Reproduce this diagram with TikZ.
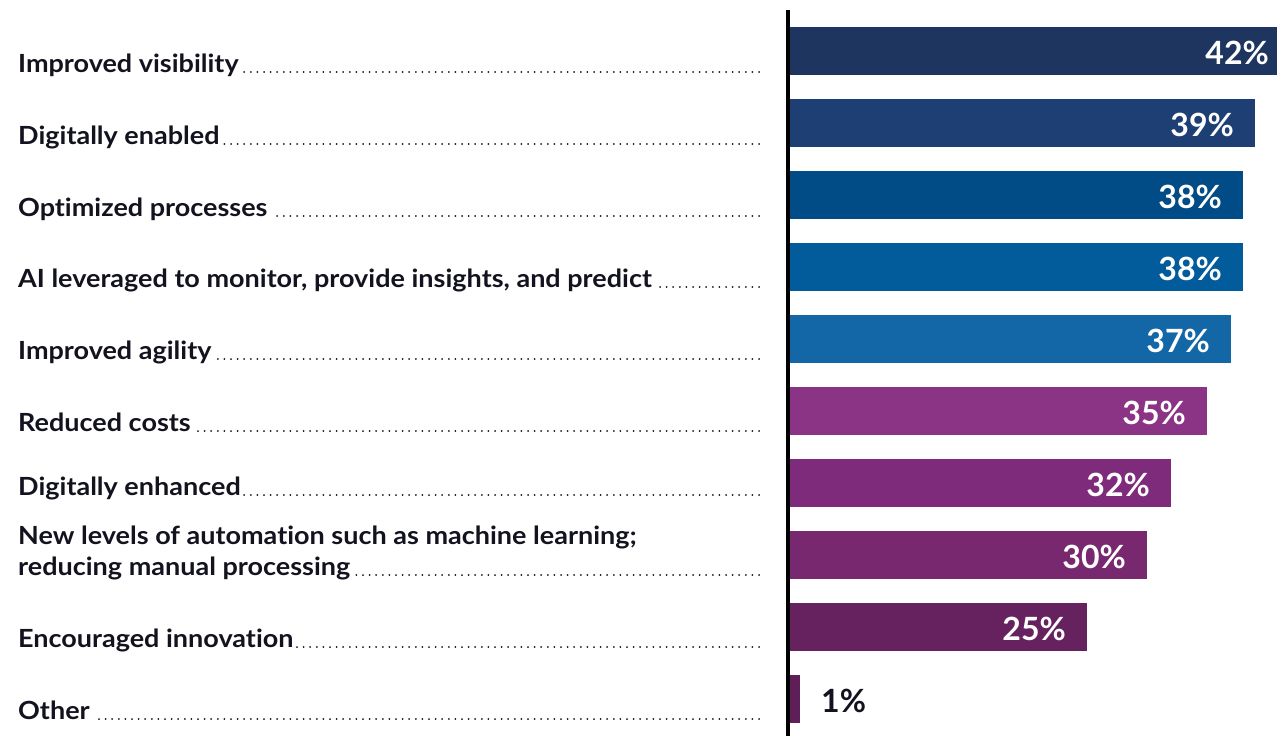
\documentclass[tikz,border=0pt]{standalone}
\usepackage{fontspec}
\setmainfont{Lato}[Ligatures=NoCommon]
\newfontfamily\labfont{Lato}[Ligatures=NoCommon, FakeStretch=1.08]
\definecolor{txt}{HTML}{13131F}
\definecolor{cA}{HTML}{1E355F}
\definecolor{cB}{HTML}{1E3F73}
\definecolor{cC}{HTML}{014B87}
\definecolor{cD}{HTML}{025C9C}
\definecolor{cE}{HTML}{1467A7}
\definecolor{cF}{HTML}{8B3384}
\definecolor{cG}{HTML}{7F2B7B}
\definecolor{cH}{HTML}{78286F}
\definecolor{cI}{HTML}{66225E}
\definecolor{cJ}{HTML}{5E1F58}
\tikzset{
  lab/.style={anchor=base west, inner sep=0pt, text=txt, font=\labfont\fontsize{25}{30}\selectfont\bfseries},
  pct/.style={anchor=base east, inner sep=0pt, text=white, font=\fontsize{32}{36}\selectfont\bfseries},
  leader/.style={line width=2pt, line cap=round, dash pattern=on 0pt off 6.6pt, draw=txt}
}
\begin{document}
\begin{tikzpicture}[x=1pt,y=-1pt]
\useasboundingbox (0,0) rectangle (1277,736);
% bars
\newcommand{\mybar}[5]{% name, top, right, colour, label
  \fill[#4] (789,#2) rectangle (#3,#2+48);
  \node[pct] (#1) at (#3-21,#2+37) {#5};
}
\fill[cA] (789,27) rectangle (1277,75);
\node[pct] (p1) at (1269,64) {42\%};
\mybar{p2}{99}{1255}{cB}{39\%}
\mybar{p3}{171}{1243}{cC}{38\%}
\mybar{p4}{243}{1243}{cD}{38\%}
\mybar{p5}{315}{1231}{cE}{37\%}
\mybar{p6}{387}{1207}{cF}{35\%}
\mybar{p7}{459}{1171}{cG}{32\%}
\mybar{p8}{531}{1147}{cH}{30\%}
\mybar{p9}{603}{1087}{cI}{25\%}
\fill[cJ] (789,675) rectangle (800,723);
\node[pct, anchor=base west, text=txt] (p10) at (821,712) {1\%};
% axis
\coordinate (axtop) at (788,10);
\coordinate (axbot) at (788,736);
\draw[line width=4pt, draw=black] (axtop) -- (axbot);
% labels
\node[lab] (l1) at (18,72) {Improved visibility};
\node[lab] (l2) at (18,144) {Digitally enabled};
\node[lab] (l3) at (18,216) {Optimized processes};
\node[lab] (l4) at (18,287) {AI leveraged to monitor, provide insights, and predict};
\node[lab] (l5) at (18,359) {Improved agility};
\node[lab] (l6) at (18,431) {Reduced costs};
\node[lab] (l7) at (18,495) {Digitally enhanced};
\node[lab] (l8a) at (18,544) {New levels of automation such as machine learning;};
\node[lab] (l8) at (18,575) {reducing manual processing};
\node[lab] (l9) at (18,647) {Encouraged innovation};
\node[lab] (l10) at (18,719) {Other};
% leaders
\foreach \n/\y in {l1/72,l2/144,l3/216,l4/287,l5/359,l6/431,l7/495,l8/575,l9/647,l10/719}{
  \coordinate (\n e) at (759,\y);
  \draw[leader] (\n e) -- ([xshift=3pt]\n.base east);
}
\end{tikzpicture}
\end{document}
